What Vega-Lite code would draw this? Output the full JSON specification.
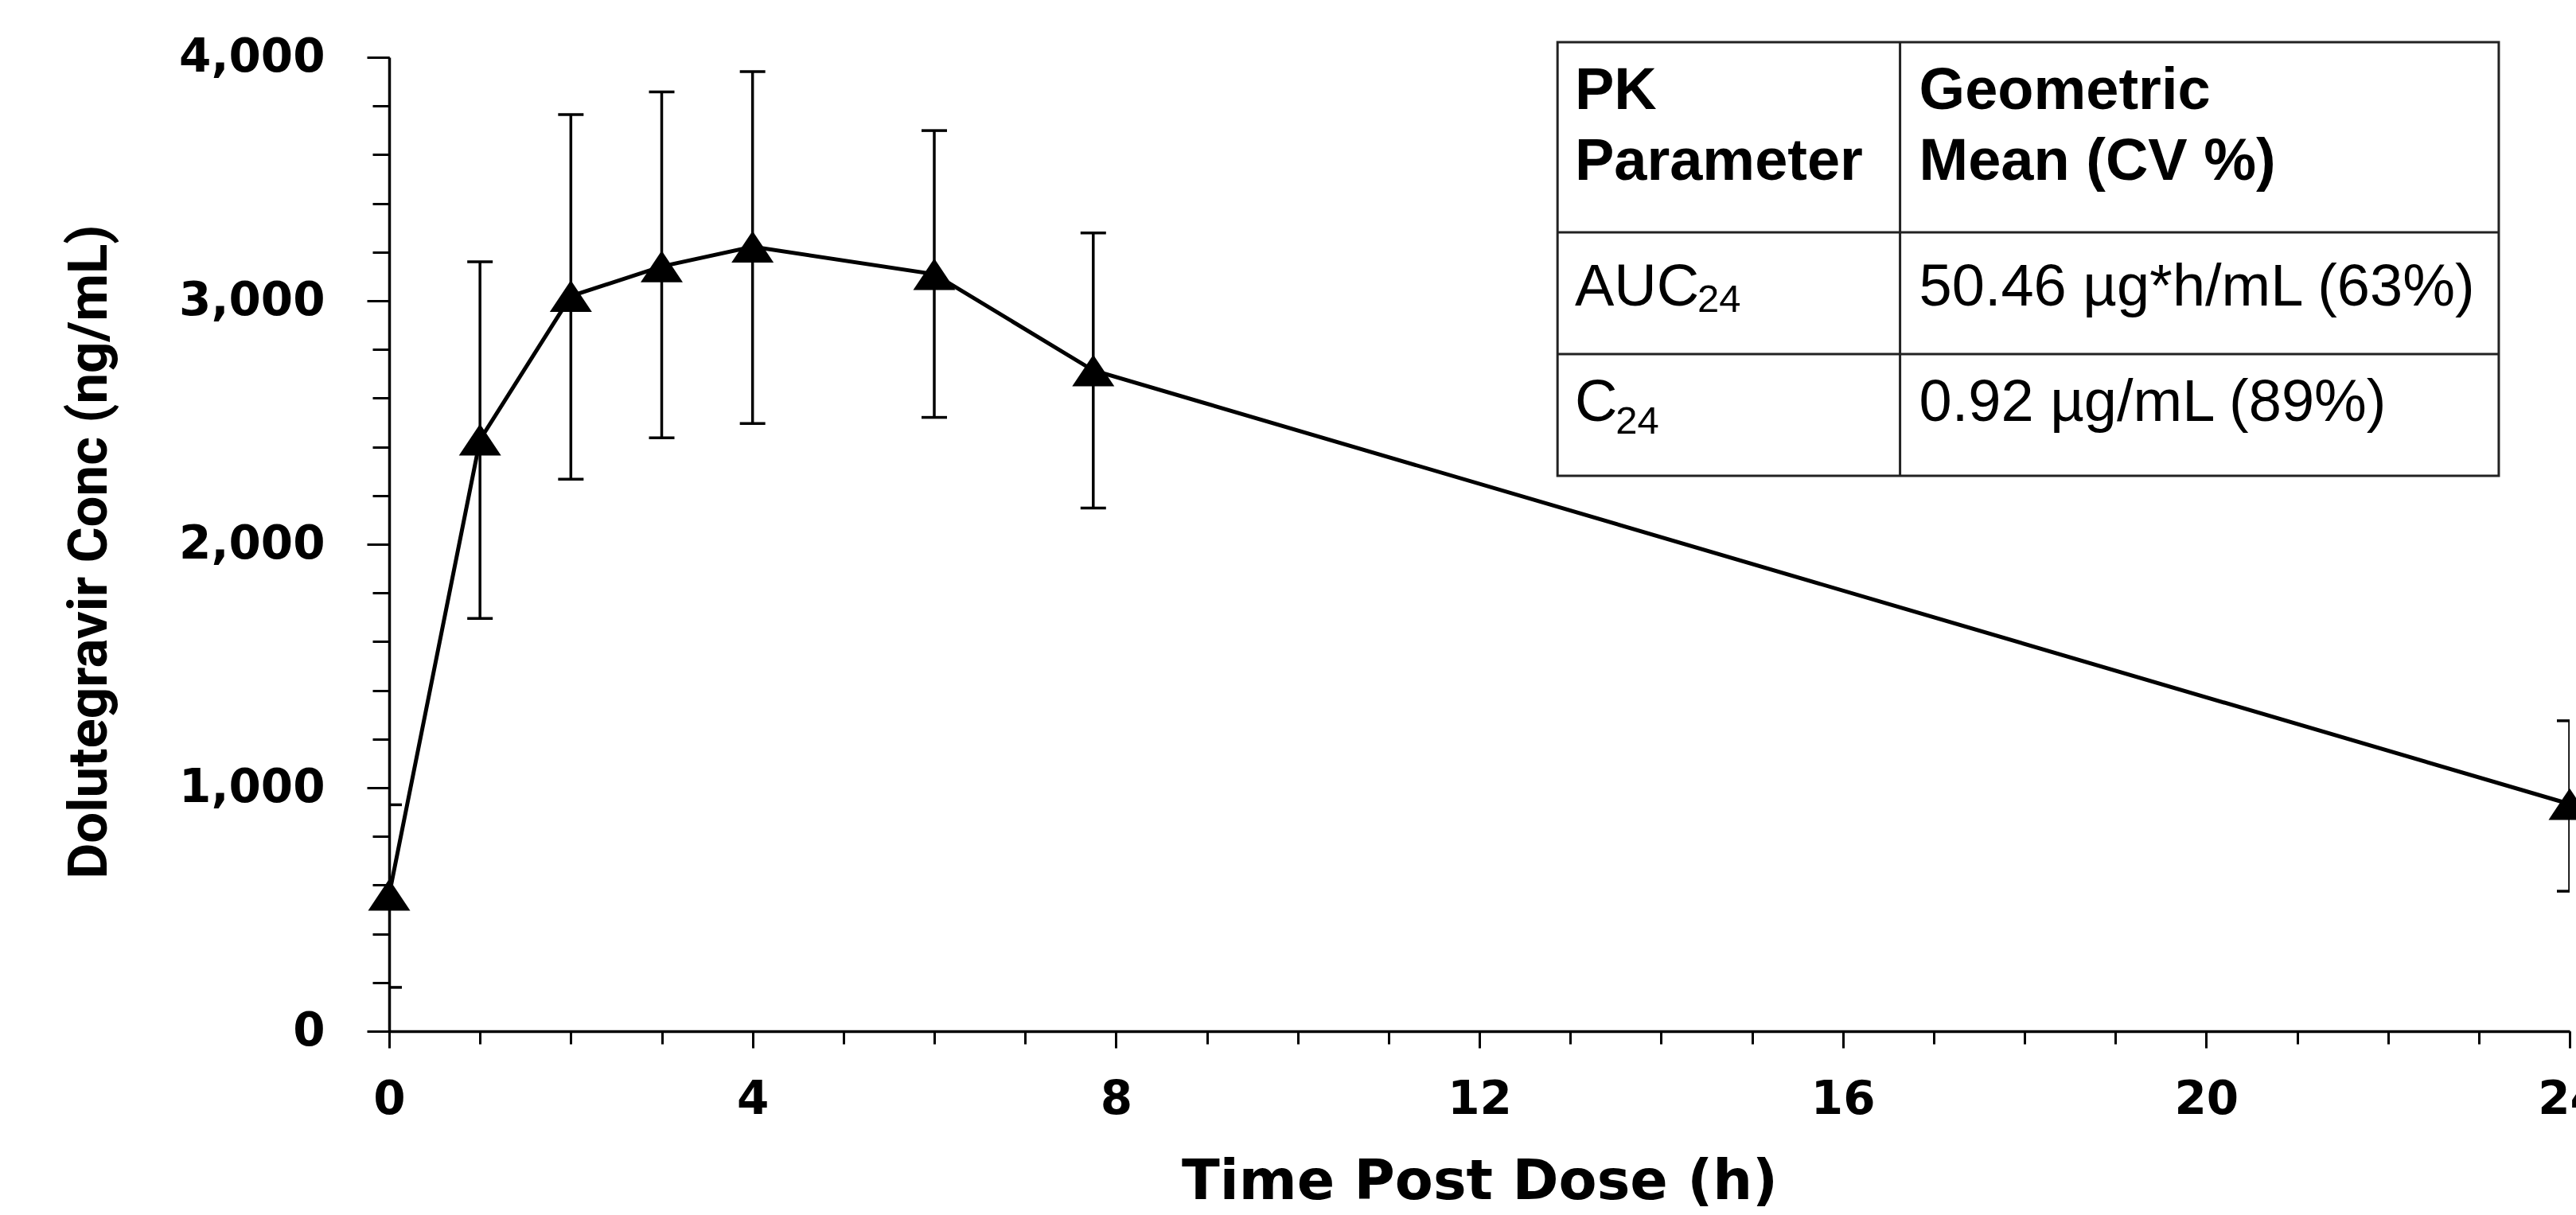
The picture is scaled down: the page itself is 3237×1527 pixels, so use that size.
{
  "$schema": "https://vega.github.io/schema/vega-lite/v6.json",
  "width": 2740,
  "height": 1224,
  "autosize": {"type": "none"},
  "padding": {"left": 489, "top": 72, "right": 8, "bottom": 231},
  "background": "white",
  "config": {
    "view": {"stroke": null},
    "axis": {"grid": false, "domainColor": "black", "tickColor": "black", "labelColor": "black", "titleColor": "black"}
  },
  "datasets": {
    "pk": [
      {"time": 0, "conc": 560, "lo": 180, "hi": 930},
      {"time": 1, "conc": 2429, "lo": 1695, "hi": 3160},
      {"time": 2, "conc": 3019, "lo": 2267, "hi": 3765},
      {"time": 3, "conc": 3141, "lo": 2437, "hi": 3858},
      {"time": 4, "conc": 3222, "lo": 2496, "hi": 3941},
      {"time": 6, "conc": 3109, "lo": 2521, "hi": 3699},
      {"time": 7.75, "conc": 2714, "lo": 2149, "hi": 3279},
      {"time": 24, "conc": 933, "lo": 575, "hi": 1275}
    ],
    "table": [
      {"parameter": "AUC", "sub": "24", "gm": "50.46 µg*h/mL (63%)"},
      {"parameter": "C", "sub": "24", "gm": "0.92 µg/mL (89%)"}
    ],
    "one": [{}]
  },
  "layer": [
    {
      "data": {"name": "pk"},
      "mark": {"type": "rule", "color": "black", "strokeWidth": 3.5, "clip": true},
      "encoding": {
        "x": {"field": "time", "type": "quantitative", "scale": {"domain": [0, 24], "nice": false, "zero": false}, "axis": null},
        "y": {"field": "lo", "type": "quantitative", "scale": {"domain": [0, 4000], "nice": false}, "axis": null},
        "y2": {"field": "hi"}
      }
    },
    {
      "data": {"name": "pk"},
      "mark": {"type": "tick", "orient": "horizontal", "color": "black", "size": 32, "thickness": 3.5, "opacity": 1, "clip": true},
      "encoding": {
        "x": {"field": "time", "type": "quantitative", "axis": null},
        "y": {"field": "hi", "type": "quantitative", "axis": null}
      }
    },
    {
      "data": {"name": "pk"},
      "mark": {"type": "tick", "orient": "horizontal", "color": "black", "size": 32, "thickness": 3.5, "opacity": 1, "clip": true},
      "encoding": {
        "x": {"field": "time", "type": "quantitative", "axis": null},
        "y": {"field": "lo", "type": "quantitative", "axis": null}
      }
    },
    {
      "data": {"name": "pk"},
      "mark": {"type": "line", "color": "black", "strokeWidth": 5},
      "encoding": {
        "x": {"field": "time", "type": "quantitative", "axis": {
          "orient": "bottom", "values": [0, 4, 8, 12, 16, 20, 24], "domainWidth": 3.5, "tickWidth": 3, "tickSize": 21,
          "labelFont": "DejaVu Sans", "labelFontWeight": "bold", "labelFontSize": 58, "labelPadding": 36, "labelLimit": 0,
          "labelFlush": false, "labelOverlap": false,
          "title": "Time Post Dose (h)", "titleFont": "DejaVu Sans", "titleFontWeight": "bold", "titleFontSize": 70, "titlePadding": 40
        }},
        "y": {"field": "conc", "type": "quantitative", "axis": {
          "orient": "left", "values": [0, 1000, 2000, 3000, 4000], "format": ",d", "domainWidth": 3.5, "tickWidth": 3, "tickSize": 28,
          "labelFont": "DejaVu Sans", "labelFontWeight": "bold", "labelFontSize": 58, "labelPadding": 53, "labelLimit": 0,
          "labelFlush": false, "labelOverlap": false,
          "title": "Dolutegravir Conc (ng/mL)", "titleFont": "Roboto", "titleFontWeight": "bold", "titleFontSize": 69,
          "titleBaseline": "alphabetic", "titleX": -356, "titleY": 621, "titleAngle": -90
        }}
      }
    },
    {
      "data": {"name": "pk"},
      "mark": {"type": "point", "shape": "M0,-0.75L1,0.75L-1,0.75Z", "size": 2809, "filled": true, "color": "black", "opacity": 1},
      "encoding": {
        "x": {"field": "time", "type": "quantitative", "axis": {
          "orient": "bottom", "values": [0,1,2,3,4,5,6,7,8,9,10,11,12,13,14,15,16,17,18,19,20,21,22,23,24],
          "domain": false, "labels": false, "tickWidth": 3, "tickSize": 16, "title": null
        }},
        "y": {"field": "conc", "type": "quantitative", "axis": {
          "orient": "left", "values": [0,200,400,600,800,1000,1200,1400,1600,1800,2000,2200,2400,2600,2800,3000,3200,3400,3600,3800,4000],
          "domain": false, "labels": false, "tickWidth": 3, "tickSize": 21, "title": null
        }}
      }
    },
    {
      "data": {"name": "one"},
      "mark": {"type": "rect", "fill": "white", "stroke": "#222222", "strokeWidth": 3},
      "encoding": {
        "x": {"datum": 12.86, "type": "quantitative", "axis": null},
        "x2": {"datum": 23.22},
        "y": {"datum": 4062, "type": "quantitative", "axis": null},
        "y2": {"datum": 2281}
      }
    },
    {
      "data": {"name": "one"},
      "mark": {"type": "rule", "stroke": "#222222", "strokeWidth": 3},
      "encoding": {
        "x": {"datum": 16.63, "type": "quantitative", "axis": null},
        "y": {"datum": 4062, "type": "quantitative", "axis": null},
        "y2": {"datum": 2281}
      }
    },
    {
      "data": {"name": "one"},
      "mark": {"type": "rule", "stroke": "#222222", "strokeWidth": 3},
      "encoding": {
        "x": {"datum": 12.86, "type": "quantitative", "axis": null},
        "x2": {"datum": 23.22},
        "y": {"datum": 3281, "type": "quantitative", "axis": null}
      }
    },
    {
      "data": {"name": "one"},
      "mark": {"type": "rule", "stroke": "#222222", "strokeWidth": 3},
      "encoding": {
        "x": {"datum": 12.86, "type": "quantitative", "axis": null},
        "x2": {"datum": 23.22},
        "y": {"datum": 2781, "type": "quantitative", "axis": null}
      }
    },
    {
      "data": {"name": "one"},
      "mark": {"type": "text", "font": "Liberation Sans", "fontSize": 74, "fontWeight": "bold", "align": "left", "baseline": "alphabetic", "lineBreak": "\n", "lineHeight": 89, "color": "black"},
      "encoding": {
        "x": {"datum": 13.05, "type": "quantitative", "axis": null},
        "y": {"datum": 3788, "type": "quantitative", "axis": null},
        "text": {"value": "PK\nParameter"}
      }
    },
    {
      "data": {"name": "one"},
      "mark": {"type": "text", "font": "Liberation Sans", "fontSize": 74, "fontWeight": "bold", "align": "left", "baseline": "alphabetic", "lineBreak": "\n", "lineHeight": 89, "color": "black"},
      "encoding": {
        "x": {"datum": 16.84, "type": "quantitative", "axis": null},
        "y": {"datum": 3788, "type": "quantitative", "axis": null},
        "text": {"value": "Geometric\nMean (CV %)"}
      }
    },
    {
      "data": {"name": "table"},
      "transform": [{"filter": "datum.parameter === 'AUC'"}],
      "mark": {"type": "text", "font": "Liberation Sans", "fontSize": 74, "align": "left", "baseline": "alphabetic", "color": "black"},
      "encoding": {
        "x": {"datum": 13.05, "type": "quantitative", "axis": null},
        "y": {"datum": 2980, "type": "quantitative", "axis": null},
        "text": {"field": "parameter"}
      }
    },
    {
      "data": {"name": "table"},
      "transform": [{"filter": "datum.parameter === 'AUC'"}],
      "mark": {"type": "text", "font": "Liberation Sans", "fontSize": 49, "align": "left", "baseline": "alphabetic", "color": "black"},
      "encoding": {
        "x": {"datum": 14.4, "type": "quantitative", "axis": null},
        "y": {"datum": 2954, "type": "quantitative", "axis": null},
        "text": {"field": "sub"}
      }
    },
    {
      "data": {"name": "table"},
      "transform": [{"filter": "datum.parameter === 'AUC'"}],
      "mark": {"type": "text", "font": "Liberation Sans", "fontSize": 74, "align": "left", "baseline": "alphabetic", "color": "black"},
      "encoding": {
        "x": {"datum": 16.84, "type": "quantitative", "axis": null},
        "y": {"datum": 2980, "type": "quantitative", "axis": null},
        "text": {"field": "gm"}
      }
    },
    {
      "data": {"name": "table"},
      "transform": [{"filter": "datum.parameter === 'C'"}],
      "mark": {"type": "text", "font": "Liberation Sans", "fontSize": 74, "align": "left", "baseline": "alphabetic", "color": "black"},
      "encoding": {
        "x": {"datum": 13.05, "type": "quantitative", "axis": null},
        "y": {"datum": 2507, "type": "quantitative", "axis": null},
        "text": {"field": "parameter"}
      }
    },
    {
      "data": {"name": "table"},
      "transform": [{"filter": "datum.parameter === 'C'"}],
      "mark": {"type": "text", "font": "Liberation Sans", "fontSize": 49, "align": "left", "baseline": "alphabetic", "color": "black"},
      "encoding": {
        "x": {"datum": 13.5, "type": "quantitative", "axis": null},
        "y": {"datum": 2455, "type": "quantitative", "axis": null},
        "text": {"field": "sub"}
      }
    },
    {
      "data": {"name": "table"},
      "transform": [{"filter": "datum.parameter === 'C'"}],
      "mark": {"type": "text", "font": "Liberation Sans", "fontSize": 74, "align": "left", "baseline": "alphabetic", "color": "black"},
      "encoding": {
        "x": {"datum": 16.84, "type": "quantitative", "axis": null},
        "y": {"datum": 2507, "type": "quantitative", "axis": null},
        "text": {"field": "gm"}
      }
    }
  ],
  "resolve": {"axis": {"x": "independent", "y": "independent"}}
}
